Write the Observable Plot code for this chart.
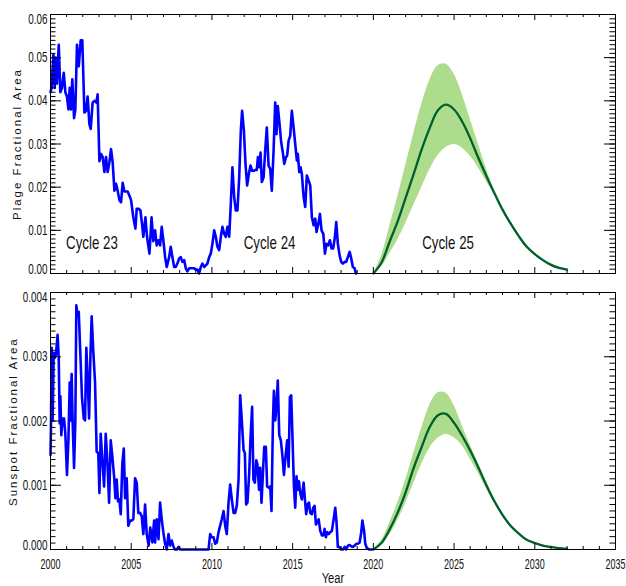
<!DOCTYPE html>
<html>
<head>
<meta charset="utf-8">
<script src="https://cdn.jsdelivr.net/npm/d3@7"></script>
<script src="https://cdn.jsdelivr.net/npm/@observablehq/plot@0.6"></script>
<style>
  html, body { margin: 0; padding: 0; background: #fff; }
  #chart { width: 626px; }
  #chart svg { display: block; background: #fff; }
</style>
</head>
<body>
<div id="chart"></div>
<script>
// ---------------- DATA ----------------
const plageYears = [2000.00,2000.07,2000.18,2000.26,2000.32,2000.40,2000.51,2000.61,2000.71,2000.82,2000.92,2001.02,2001.11,2001.19,2001.27,2001.35,2001.46,2001.54,2001.64,2001.75,2001.87,2001.97,2002.10,2002.20,2002.30,2002.41,2002.49,2002.61,2002.74,2002.84,2002.92,2003.03,2003.13,2003.23,2003.34,2003.44,2003.54,2003.65,2003.75,2003.85,2003.96,2004.06,2004.16,2004.27,2004.37,2004.47,2004.58,2004.68,2004.78,2004.89,2004.99,2005.13,2005.26,2005.34,2005.46,2005.57,2005.67,2005.75,2005.88,2005.98,2006.13,2006.26,2006.37,2006.48,2006.58,2006.69,2006.79,2006.89,2006.99,2007.10,2007.20,2007.35,2007.45,2007.55,2007.66,2007.76,2007.86,2007.97,2008.07,2008.17,2008.28,2008.38,2008.48,2008.59,2008.69,2008.79,2008.90,2009.00,2009.10,2009.21,2009.31,2009.41,2009.52,2009.62,2009.72,2009.83,2009.93,2010.03,2010.14,2010.24,2010.34,2010.45,2010.55,2010.65,2010.76,2010.86,2010.96,2011.07,2011.17,2011.27,2011.38,2011.48,2011.58,2011.69,2011.79,2011.87,2011.98,2012.08,2012.18,2012.29,2012.39,2012.49,2012.60,2012.70,2012.78,2012.85,2012.93,2013.01,2013.09,2013.20,2013.30,2013.40,2013.51,2013.61,2013.71,2013.82,2013.92,2014.00,2014.08,2014.19,2014.29,2014.39,2014.48,2014.58,2014.66,2014.75,2014.85,2014.95,2015.06,2015.16,2015.26,2015.32,2015.41,2015.49,2015.57,2015.68,2015.78,2015.88,2015.99,2016.09,2016.19,2016.30,2016.40,2016.48,2016.59,2016.69,2016.79,2016.90,2017.00,2017.10,2017.20,2017.31,2017.41,2017.51,2017.62,2017.70,2017.80,2017.91,2018.01,2018.11,2018.22,2018.32,2018.42,2018.53,2018.63,2018.73,2018.84,2018.92];
const plageValues = [0.0420,0.0430,0.0508,0.0430,0.0500,0.0440,0.0530,0.0420,0.0430,0.0465,0.0420,0.0410,0.0380,0.0430,0.0380,0.0450,0.0360,0.0380,0.0530,0.0480,0.0540,0.0540,0.0373,0.0377,0.0410,0.0346,0.0335,0.0396,0.0400,0.0396,0.0415,0.0260,0.0277,0.0270,0.0235,0.0270,0.0235,0.0258,0.0288,0.0258,0.0192,0.0208,0.0192,0.0170,0.0165,0.0210,0.0190,0.0190,0.0190,0.0180,0.0170,0.0130,0.0104,0.0150,0.0150,0.0146,0.0115,0.0085,0.0130,0.0085,0.0046,0.0130,0.0075,0.0100,0.0065,0.0077,0.0065,0.0108,0.0077,0.0038,0.0015,0.0038,0.0062,0.0038,0.0015,0.0015,0.0023,0.0035,0.0038,0.0027,0.0031,0.0012,0.0005,0.0012,0.0012,0.0012,0.0012,0.0009,0.0009,0.0000,0.0015,0.0023,0.0015,0.0019,0.0023,0.0038,0.0046,0.0069,0.0100,0.0085,0.0062,0.0054,0.0085,0.0108,0.0092,0.0085,0.0108,0.0085,0.0162,0.0246,0.0177,0.0146,0.0146,0.0223,0.0331,0.0377,0.0331,0.0254,0.0204,0.0231,0.0250,0.0238,0.0238,0.0240,0.0240,0.0270,0.0246,0.0280,0.0212,0.0223,0.0285,0.0338,0.0250,0.0242,0.0192,0.0285,0.0396,0.0323,0.0388,0.0346,0.0304,0.0281,0.0254,0.0269,0.0273,0.0308,0.0319,0.0377,0.0338,0.0300,0.0262,0.0277,0.0235,0.0246,0.0231,0.0177,0.0154,0.0227,0.0215,0.0204,0.0131,0.0112,0.0127,0.0096,0.0115,0.0138,0.0100,0.0092,0.0046,0.0069,0.0065,0.0077,0.0058,0.0058,0.0085,0.0119,0.0069,0.0042,0.0027,0.0023,0.0027,0.0027,0.0038,0.0050,0.0035,0.0015,0.0012,0.0000];

const spotYears = [2000.00,2000.03,2000.07,2000.13,2000.20,2000.26,2000.34,2000.44,2000.51,2000.57,2000.61,2000.67,2000.75,2000.84,2000.92,2001.02,2001.11,2001.19,2001.25,2001.31,2001.37,2001.46,2001.54,2001.60,2001.68,2001.75,2001.85,2001.95,2002.06,2002.14,2002.22,2002.30,2002.39,2002.47,2002.55,2002.65,2002.76,2002.86,2002.96,2003.03,2003.11,2003.21,2003.32,2003.42,2003.52,2003.63,2003.73,2003.83,2003.94,2004.02,2004.10,2004.18,2004.27,2004.35,2004.45,2004.54,2004.62,2004.72,2004.82,2004.93,2005.03,2005.13,2005.24,2005.34,2005.44,2005.55,2005.65,2005.75,2005.86,2005.96,2006.08,2006.18,2006.31,2006.42,2006.48,2006.58,2006.69,2006.79,2006.89,2006.99,2007.10,2007.20,2007.31,2007.41,2007.51,2007.62,2007.72,2007.82,2007.93,2008.03,2008.50,2009.00,2009.50,2009.79,2009.89,2009.99,2010.10,2010.20,2010.30,2010.41,2010.51,2010.61,2010.72,2010.82,2010.92,2011.03,2011.13,2011.23,2011.34,2011.44,2011.54,2011.65,2011.75,2011.85,2011.96,2012.04,2012.12,2012.20,2012.31,2012.39,2012.49,2012.57,2012.66,2012.75,2012.82,2012.92,2012.99,2013.07,2013.16,2013.24,2013.34,2013.42,2013.53,2013.61,2013.69,2013.78,2013.84,2013.92,2013.98,2014.08,2014.17,2014.27,2014.37,2014.46,2014.56,2014.66,2014.75,2014.83,2014.91,2014.99,2015.08,2015.16,2015.24,2015.32,2015.39,2015.47,2015.57,2015.68,2015.76,2015.84,2015.92,2016.01,2016.09,2016.19,2016.28,2016.36,2016.44,2016.52,2016.61,2016.71,2016.81,2016.90,2016.98,2017.06,2017.14,2017.23,2017.33,2017.43,2017.54,2017.64,2017.72,2017.80,2017.91,2018.01,2018.11,2018.22,2018.32,2018.42,2018.53,2018.63,2018.73,2018.84,2018.94,2019.04,2019.15,2019.25,2019.32,2019.42,2019.50,2019.60,2019.75,2019.90];
const spotValues = [0.00147,0.00191,0.00314,0.00201,0.00306,0.00298,0.00304,0.00334,0.00298,0.00196,0.00239,0.00178,0.00204,0.00204,0.00180,0.00116,0.00170,0.00260,0.00201,0.00273,0.00201,0.00127,0.00201,0.00380,0.00363,0.00370,0.00304,0.00237,0.00204,0.00201,0.00314,0.00268,0.00204,0.00298,0.00363,0.00309,0.00260,0.00152,0.00150,0.00088,0.00180,0.00139,0.00098,0.00180,0.00139,0.00073,0.00170,0.00145,0.00114,0.00080,0.00109,0.00075,0.00078,0.00055,0.00134,0.00157,0.00080,0.00111,0.00037,0.00045,0.00045,0.00047,0.00111,0.00104,0.00057,0.00057,0.00052,0.00024,0.00070,0.00024,0.00006,0.00034,0.00011,0.00045,0.00011,0.00047,0.00016,0.00073,0.00047,0.00027,0.00009,0.00000,0.00024,0.00006,0.00014,0.00004,0.00000,0.00000,0.00004,0.00000,0.00000,0.00000,0.00000,0.00000,0.00024,0.00019,0.00019,0.00009,0.00011,0.00027,0.00037,0.00047,0.00060,0.00037,0.00024,0.00073,0.00101,0.00078,0.00057,0.00057,0.00068,0.00109,0.00240,0.00201,0.00155,0.00150,0.00070,0.00073,0.00119,0.00173,0.00222,0.00109,0.00104,0.00139,0.00132,0.00093,0.00127,0.00073,0.00119,0.00160,0.00160,0.00098,0.00096,0.00098,0.00060,0.00201,0.00247,0.00201,0.00216,0.00263,0.00178,0.00170,0.00145,0.00116,0.00145,0.00170,0.00129,0.00237,0.00240,0.00175,0.00098,0.00065,0.00114,0.00093,0.00106,0.00088,0.00078,0.00104,0.00078,0.00055,0.00070,0.00073,0.00057,0.00055,0.00065,0.00068,0.00039,0.00042,0.00047,0.00029,0.00022,0.00022,0.00032,0.00019,0.00027,0.00024,0.00027,0.00029,0.00047,0.00065,0.00042,0.00004,0.00004,0.00000,0.00000,0.00004,0.00000,0.00006,0.00007,0.00005,0.00004,0.00006,0.00009,0.00009,0.00011,0.00027,0.00045,0.00030,0.00009,0.00002,0.00000,0.00000];

// Cycle 25 prediction (mean curve and uncertainty band)
const predYears = [2020.0,2020.5,2021.0,2021.5,2022.0,2022.5,2023.0,2023.5,2024.0,2024.5,2025.0,2025.5,2026.0,2026.5,2027.0,2027.5,2028.0,2028.5,2029.0,2029.5,2030.0,2030.5,2031.0,2031.5,2032.0];
const plageMean  = [0,0.0025,0.0073,0.0120,0.0175,0.0231,0.0288,0.0338,0.0378,0.0391,0.0380,0.0352,0.0313,0.0268,0.0226,0.0186,0.0148,0.0116,0.0087,0.0062,0.0045,0.0031,0.0020,0.0013,0.0009];
const plageUpper = [0,0.0040,0.0108,0.0176,0.0250,0.0324,0.0392,0.0448,0.0481,0.0485,0.0462,0.0415,0.0358,0.0300,0.0243,0.0192,0.0152,0.0120,0.0091,0.0066,0.0048,0.0034,0.0023,0.0015,0.0011];
const plageLower = [0,0.0015,0.0045,0.0077,0.0116,0.0158,0.0200,0.0241,0.0273,0.0292,0.0299,0.0291,0.0272,0.0245,0.0213,0.0182,0.0145,0.0113,0.0084,0.0059,0.0042,0.0029,0.0018,0.0011,0.0007];
const spotMean  = [0,0.00010,0.00031,0.00057,0.00089,0.00127,0.00160,0.00191,0.00209,0.00211,0.00197,0.00177,0.00154,0.00128,0.00100,0.00075,0.00054,0.00037,0.00025,0.00015,0.00010,0.00006,0.00004,0.00002,0.00001];
const spotUpper = [0,0.00014,0.00041,0.00072,0.00108,0.00150,0.00189,0.00225,0.00244,0.00243,0.00224,0.00193,0.00163,0.00134,0.00107,0.00079,0.00057,0.00039,0.00026,0.00016,0.00011,0.00007,0.00004,0.00002,0.00001];
const spotLower = [0,0.00007,0.00022,0.00045,0.00072,0.00103,0.00133,0.00158,0.00173,0.00179,0.00174,0.00162,0.00141,0.00119,0.00095,0.00072,0.00052,0.00035,0.00024,0.00014,0.00009,0.00005,0.00003,0.00001,0];

// Ticks and labels
const xTicks = [2000, 2005, 2010, 2015, 2020, 2025, 2030, 2035];
const plageTicks = [0, 0.01, 0.02, 0.03, 0.04, 0.05, 0.06];
const spotTicks = [0, 0.001, 0.002, 0.003, 0.004];
const cycleLabels = ["Cycle 23", "Cycle 24", "Cycle 25"];
const cycleLabelYears = [2002.57, 2013.57, 2024.63];
const cycleLabelValues = [0.0071, 0.0071, 0.0071];

// ---------------- STYLE ----------------
const W = 626, ML = 50, MR = 11;
const BLUE = "#0000ff", GREEN_FILL = "#acdc8c", GREEN_LINE = "#00602d";
const FONT = "'Liberation Sans', Arial, Helvetica, sans-serif";

function squeezeEl(t, s) {
  const tr = t.getAttribute("transform");
  if (tr) t.setAttribute("transform", tr + ` scale(${s},1)`);
  else {
    const x = +t.getAttribute("x") || 0, y = +t.getAttribute("y") || 0;
    t.removeAttribute("x"); t.removeAttribute("y");
    t.setAttribute("transform", `translate(${x},${y}) scale(${s},1)`);
  }
}
function squeeze(root, selector, s) {
  root.querySelectorAll(selector).forEach(t => squeezeEl(t, s));
}

function panel(o) {
  const innerH = o.height - o.marginTop - o.marginBottom;
  const innerW = W - ML - MR;
  const obs = o.years.map((x, i) => ({x, y: o.values[i]}));
  const pred = predYears.map((x, i) => ({x, m: o.mean[i], lo: o.lower[i], hi: o.upper[i]}));
  const xMinor = d3.range(2000, 2036).filter(d => d % 5 !== 0);
  const yMinor = o.minorY;
  const tickLabelOpts = {tickSize: 0, tickPadding: 3, tickFormat: o.fmt, fontSize: 14.5, fill: "#111", label: null};
  const marks = [
    Plot.areaY(pred, {x: "x", y1: "lo", y2: "hi", fill: GREEN_FILL, curve: "catmull-rom"}),
    Plot.lineY(pred, {x: "x", y: "m", stroke: GREEN_LINE, strokeWidth: 2.3, curve: "catmull-rom"}),
    Plot.line(obs, {x: "x", y: "y", stroke: BLUE, strokeWidth: 2.6, strokeLinejoin: "round"}),
    Plot.tickX(xTicks, {x: d => d, insetTop: innerH - 6, stroke: "#000"}),
    Plot.tickX(xMinor, {x: d => d, insetTop: innerH - 3, stroke: "#000"}),
    Plot.tickX(xTicks, {x: d => d, insetBottom: innerH - 6, stroke: "#000"}),
    Plot.tickX(xMinor, {x: d => d, insetBottom: innerH - 3, stroke: "#000"}),
    Plot.tickY(o.yTicks, {y: d => d, insetRight: innerW - 11, stroke: "#000"}),
    Plot.tickY(yMinor, {y: d => d, insetRight: innerW - 5.5, stroke: "#000"}),
    Plot.tickY(o.yTicks, {y: d => d, insetLeft: innerW - 11, stroke: "#000"}),
    Plot.tickY(yMinor, {y: d => d, insetLeft: innerW - 5.5, stroke: "#000"}),
    Plot.frame({stroke: "#000", strokeWidth: 1}),
    Plot.axisY(o.yTicks.slice(1, -1), tickLabelOpts),
    Plot.axisY([o.yTicks[0]], {...tickLabelOpts, dy: -4}),
    Plot.axisY([o.yTicks[o.yTicks.length - 1]], {...tickLabelOpts, dy: 5}),
    // rotated y title: anchored at its start (bottom end), shifted down by half its length
    Plot.text([o.yLabel], {frameAnchor: "left", dx: o.labelX - ML, dy: o.labelHalfLen, rotate: -90,
      textAnchor: "start", fontSize: 11.5, fill: "#111"})
  ];
  if (o.cycles) {
    marks.push(Plot.text(cycleLabels, {x: (d, i) => cycleLabelYears[i], y: (d, i) => cycleLabelValues[i],
      text: d => d, fontSize: 18, fill: "#111"}));
  }
  if (o.showX) {
    marks.push(Plot.axisX(xTicks, {tickSize: 0, tickPadding: 9, tickFormat: d3.format("d"), fontSize: 14.5, fill: "#111", label: null}));
    marks.push(Plot.text(["Year"], {frameAnchor: "bottom", dy: 23, lineAnchor: "top", fontSize: 15, fill: "#111"}));
  }
  const svg = Plot.plot({
    width: W, height: o.height,
    marginLeft: ML, marginRight: MR, marginTop: o.marginTop, marginBottom: o.marginBottom,
    style: {fontFamily: FONT, background: "#fff", overflow: "visible"},
    x: {domain: [2000, 2035], axis: o.showX ? undefined : null, label: null},
    y: {domain: o.yDomain, label: null},
    marks
  });
  squeeze(svg, 'g[aria-label="y-axis tick label"] text', 0.68);
  squeeze(svg, 'g[aria-label="x-axis tick label"] text', 0.62);
  svg.querySelectorAll("text").forEach(t => {
    const s = t.textContent;
    if (s.startsWith("Cycle")) squeezeEl(t, 0.74);
    else if (s === "Year") squeezeEl(t, 0.75);
    else if (s.includes("Fractional")) t.style.letterSpacing = "2px";
  });
  return svg;
}

const chart = document.getElementById("chart");
chart.appendChild(panel({
  height: 280, marginTop: 14, marginBottom: 7,
  yDomain: [0, 0.06], yTicks: plageTicks, minorY: d3.range(0, 61).map(i => i / 1000),
  fmt: d3.format(".2f"), years: plageYears, values: plageValues,
  mean: plageMean, upper: plageUpper, lower: plageLower,
  yLabel: "Plage Fractional Area", labelX: 17, labelHalfLen: 76, cycles: true, showX: false
}));
chart.appendChild(panel({
  height: 306, marginTop: 12, marginBottom: 37,
  yDomain: [0, 0.004], yTicks: spotTicks, minorY: d3.range(0, 41).map(i => i / 10000),
  fmt: d3.format(".3f"), years: spotYears, values: spotValues,
  mean: spotMean, upper: spotUpper, lower: spotLower,
  yLabel: "Sunspot Fractional Area", labelX: 12.5, labelHalfLen: 85, cycles: false, showX: true
}));
</script>
</body>
</html>
